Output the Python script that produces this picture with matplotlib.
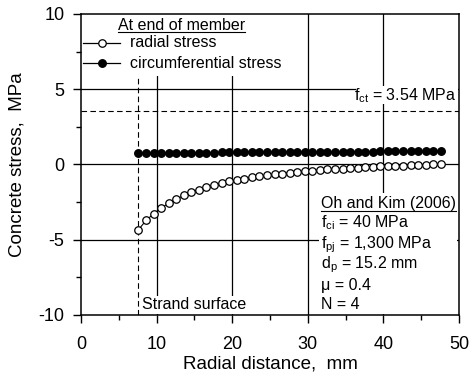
import numpy as np
import matplotlib
matplotlib.use('Agg')
import matplotlib.pyplot as plt

plt.rcParams['font.family'] = ['Liberation Sans', 'DejaVu Sans']
plt.rcParams['mathtext.fontset'] = 'custom'
plt.rcParams['mathtext.rm'] = 'Liberation Sans'
plt.rcParams['mathtext.it'] = 'Liberation Sans:italic'
plt.rcParams['axes.unicode_minus'] = False

# radial positions, mm
radius = [7.6 + i for i in range(41)]
# radial stress, MPa (open circles)
radial = [-4.34, -3.72, -3.28, -2.90, -2.57, -2.30, -2.06, -1.84, -1.68, -1.51,
          -1.38, -1.25, -1.13, -1.03, -0.94, -0.86, -0.79, -0.72, -0.66, -0.60,
          -0.55, -0.50, -0.45, -0.41, -0.37, -0.33, -0.30, -0.27, -0.24, -0.21,
          -0.18, -0.16, -0.13, -0.11, -0.09, -0.07, -0.05, -0.03, -0.02, 0.00,
          0.03]
# circumferential stress, MPa (filled circles)
circum = [0.75, 0.76, 0.76, 0.77, 0.77, 0.78, 0.78, 0.78, 0.79, 0.79,
          0.79, 0.80, 0.80, 0.80, 0.81, 0.81, 0.81, 0.82, 0.82, 0.82,
          0.83, 0.83, 0.83, 0.84, 0.84, 0.84, 0.85, 0.85, 0.85, 0.86,
          0.86, 0.86, 0.87, 0.87, 0.87, 0.88, 0.88, 0.88, 0.89, 0.89,
          0.90]
f_ct = 3.54
strand_r = 7.6
ref_title = 'Oh and Kim (2006)'
params = ['$\\mathregular{f_{ci}}$ = 40 MPa',
          '$\\mathregular{f_{pj}}$ = 1,300 MPa',
          '$\\mathregular{d_{p}}$ = 15.2 mm',
          'μ = 0.4',
          'N = 4']

FS = 11.5
MS = 5.4
fig = plt.figure(figsize=(4.7, 3.78), dpi=100)
ax = fig.add_axes([0.1723, 0.1667, 0.8043, 0.7963])

ax.set_xlim(0, 50)
ax.set_ylim(-10, 10)
ax.set_xticks([0, 10, 20, 30, 40, 50])
ax.set_yticks([-10, -5, 0, 5, 10])
ax.set_xticks([5, 15, 25, 35, 45], minor=True)
ax.set_yticks([-7.5, -2.5, 2.5, 7.5], minor=True)
ax.tick_params(which='major', direction='out', length=5.5, width=1, labelsize=13, colors='black')
ax.tick_params(axis='x', which='major', pad=9.5)
ax.tick_params(axis='y', which='major', pad=6.5)
ax.tick_params(which='minor', direction='out', length=3.3, width=1)
for sp in ax.spines.values():
    sp.set_linewidth(1.1)
    sp.set_zorder(6)

for gx in [10, 20, 30, 40]:
    ax.axvline(gx, color='black', lw=0.9, zorder=1)
for gy in [-5, 0, 5]:
    ax.axhline(gy, color='black', lw=0.9, zorder=1)

ax.axhline(f_ct, color='black', lw=0.8, ls=(0, (5, 3)), zorder=1)

# white patches behind the annotations
ax.add_patch(plt.Rectangle((0, 5.85), 27, 4.15, facecolor='white', edgecolor='none', zorder=1.5))
ax.add_patch(plt.Rectangle((36.4, 4.05), 13.5, 1.15, facecolor='white', edgecolor='none', zorder=1.5))
ax.add_patch(plt.Rectangle((7.8, -9.95), 14.5, 1.2, facecolor='white', edgecolor='none', zorder=1.5))
ax.add_patch(plt.Rectangle((31.5, -9.95), 18.2, 8.05, facecolor='white', edgecolor='none', zorder=1.5))

ax.plot([strand_r, strand_r], [-10, 5.85], color='black', lw=0.8, ls=(0, (5, 3)), zorder=2)

ax.plot(radius, circum, '-o', color='black', lw=0.8, ms=MS, mfc='black', mec='black', zorder=3)
ax.plot(radius, radial, '-o', color='black', lw=0.8, ms=MS, mfc='white', mec='black', mew=0.9, zorder=3)

# legend drawn by hand
ax.plot([0.0045, 0.055, 0.103], [0.905, 0.905, 0.905], '-o', color='black', lw=0.9, ms=MS,
        mfc='white', mec='black', mew=0.9, markevery=[1], transform=ax.transAxes, zorder=4)
ax.plot([0.0045, 0.055, 0.103], [0.837, 0.837, 0.837], '-o', color='black', lw=0.9, ms=MS,
        mfc='black', mec='black', markevery=[1], transform=ax.transAxes, zorder=4)
ax.text(0.13, 0.905, 'radial stress', transform=ax.transAxes, fontsize=FS, va='center', ha='left')
ax.text(0.13, 0.837, 'circumferential stress', transform=ax.transAxes, fontsize=FS,
        va='center', ha='left')
t_head = ax.text(0.098, 0.947, 'At end of member', transform=ax.transAxes, fontsize=FS,
                 va='baseline', ha='left')

ax.text(49.7, 4.25, '$\\mathregular{f_{ct}}$ = 3.54 MPa', fontsize=FS, ha='right', va='baseline',
        zorder=4)
ax.text(8.03, -9.57, 'Strand surface', fontsize=FS, ha='left', va='baseline', zorder=4)

# parameter block, lower right
t_ref = ax.text(31.75, -2.92, ref_title, fontsize=FS, ha='left', va='baseline', zorder=4)
ys = [-4.2, -5.55, -6.92, -8.32, -9.6]
for y, s in zip(ys, params):
    ax.text(31.75, y, s, fontsize=FS, ha='left', va='baseline', zorder=4)

ax.set_xlabel('Radial distance,  mm', fontsize=13.5, labelpad=2)
ax.set_ylabel('Concrete stress,  MPa', fontsize=13.5, labelpad=9)

# underline the two headings
fig.canvas.draw()
rend = fig.canvas.get_renderer()
inv = ax.transAxes.inverted()
for t in [t_head, t_ref]:
    bb = t.get_window_extent(renderer=rend)
    (x0, y0), (x1, y1) = inv.transform([(bb.x0, bb.y0), (bb.x1, bb.y1)])
    ax.plot([x0, x1], [y0 + 0.002, y0 + 0.002], color='black', lw=0.8, transform=ax.transAxes,
            clip_on=False, zorder=5)

fig.savefig('out.png', dpi=100)
